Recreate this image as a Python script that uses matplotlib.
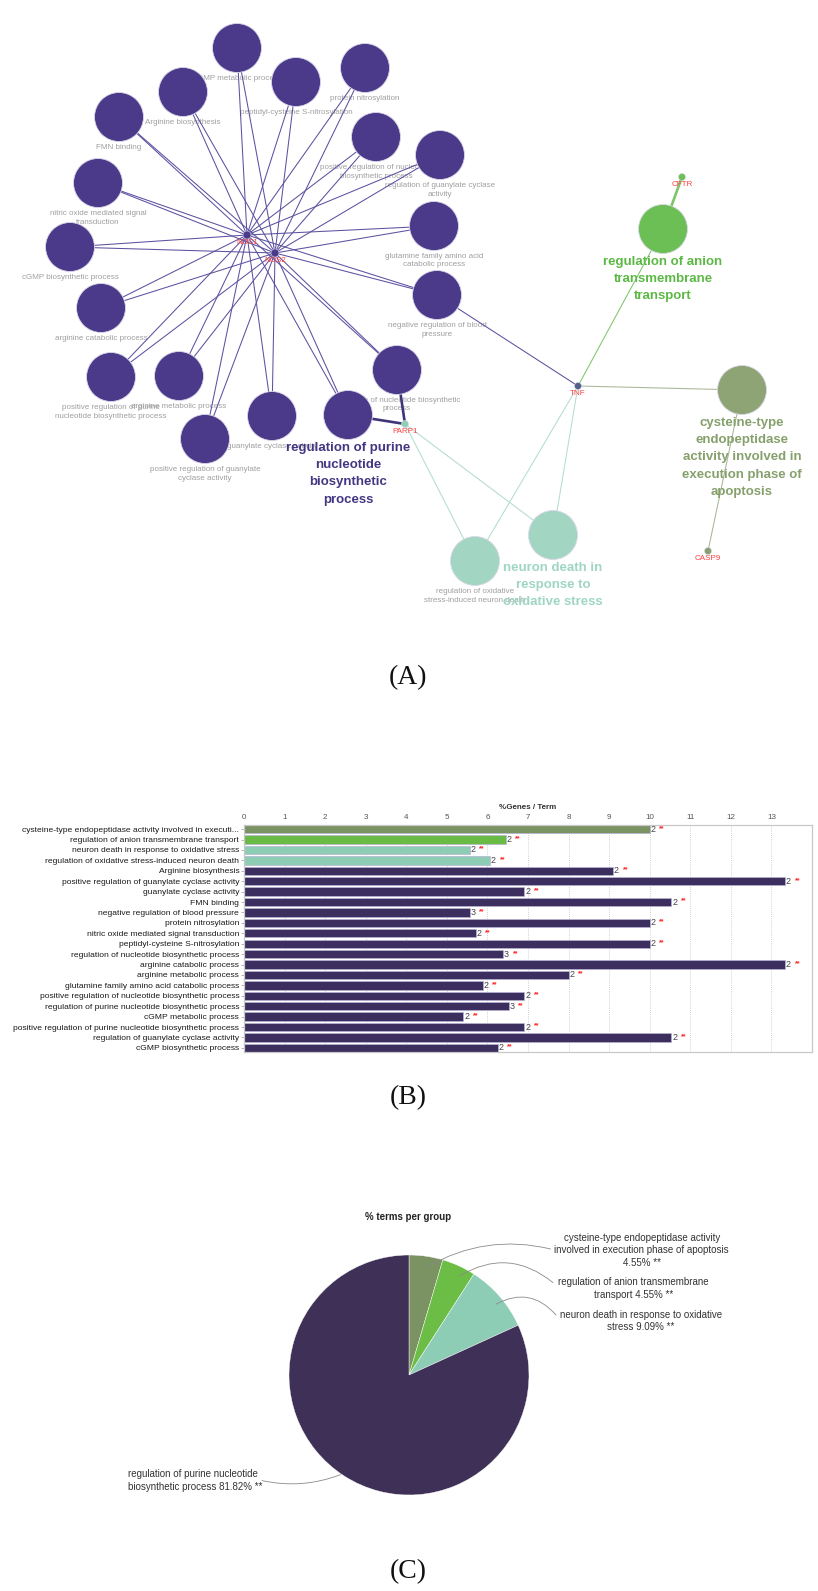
"""
Three-panel enrichment figure: (A) term-gene network, (B) %genes per term bars,
(C) share of terms per group pie.
"""
import matplotlib
matplotlib.use("Agg")
import numpy as np
import matplotlib.pyplot as plt
from matplotlib.patches import Circle
from matplotlib import font_manager

# ---------------------------------------------------------------- data
TERMS = [
    "cysteine-type endopeptidase activity involved in execution phase of apoptosis",
    "regulation of anion transmembrane transport",
    "neuron death in response to oxidative stress",
    "regulation of oxidative stress-induced neuron death",
    "Arginine biosynthesis",
    "positive regulation of guanylate cyclase activity",
    "guanylate cyclase activity",
    "FMN binding",
    "negative regulation of blood pressure",
    "protein nitrosylation",
    "nitric oxide mediated signal transduction",
    "peptidyl-cysteine S-nitrosylation",
    "regulation of nucleotide biosynthetic process",
    "arginine catabolic process",
    "arginine metabolic process",
    "glutamine family amino acid catabolic process",
    "positive regulation of nucleotide biosynthetic process",
    "regulation of purine nucleotide biosynthetic process",
    "cGMP metabolic process",
    "positive regulation of purine nucleotide biosynthetic process",
    "regulation of guanylate cyclase activity",
    "cGMP biosynthetic process",
]
TERM_GROUP = [0, 1, 2, 2] + [3] * 18
PCT_GENES = [10.00, 6.45, 5.56, 6.06, 9.09, 13.33, 6.90, 10.53, 5.56, 10.00, 5.71,
             10.00, 6.38, 13.33, 8.00, 5.88, 6.90, 6.52, 5.41, 6.90, 10.53, 6.25]
N_GENES = [2, 2, 2, 2, 2, 2, 2, 2, 3, 2, 2, 2, 3, 2, 2, 2, 2, 3, 2, 2, 2, 2]
TERM_GENES = [
    ["CASP9", "TNF"], ["CFTR", "TNF"], ["PARP1", "TNF"], ["PARP1", "TNF"],
    ["NOS1", "NOS2"], ["NOS1", "NOS2"], ["NOS1", "NOS2"], ["NOS1", "NOS2"],
    ["NOS1", "NOS2", "TNF"], ["NOS1", "NOS2"], ["NOS1", "NOS2"], ["NOS1", "NOS2"],
    ["NOS1", "NOS2", "PARP1"], ["NOS1", "NOS2"], ["NOS1", "NOS2"], ["NOS1", "NOS2"],
    ["NOS1", "NOS2"], ["NOS1", "NOS2", "PARP1"], ["NOS1", "NOS2"], ["NOS1", "NOS2"],
    ["NOS1", "NOS2"], ["NOS1", "NOS2"],
]
GENES = ["NOS1", "NOS2", "PARP1", "TNF", "CFTR", "CASP9"]

GROUP_NAMES = [
    "cysteine-type endopeptidase activity involved in execution phase of apoptosis",
    "regulation of anion transmembrane transport",
    "neuron death in response to oxidative stress",
    "regulation of purine nucleotide biosynthetic process",
]
GROUP_PCT = [4.55, 4.55, 9.09, 81.82]
GROUP_LEADER = [0, 1, 2, 17]

# ---------------------------------------------------------------- layout / style
W, H = 818, 1591
NET_H = 640

# network layout in pixels (same order as TERMS / GENES)
NODE_XY = [(742, 390), (663, 229), (553, 535), (475, 561), (183, 92), (205, 439),
           (272, 416), (119, 117), (437, 295), (365, 68), (98, 183), (296, 82),
           (397, 370), (101, 308), (179, 376), (434, 226), (376, 137), (348, 415),
           (237, 48), (111, 377), (440, 155), (70, 247)]
GENE_XY = [(247, 235), (275, 253), (405, 424), (578, 386), (682, 177), (708, 551)]
GENE_COL = ["#4b3a8a", "#4b3a8a", "#8fd0b5", "#55608a", "#6cbf55", "#8a9f70"]
THICK = {("PARP1", 12), ("PARP1", 17), ("CFTR", 1)}

NET_LABEL = {
    "positive regulation of nucleotide biosynthetic process": "positive regulation of nucleotide\nbiosynthetic process",
    "regulation of guanylate cyclase activity": "regulation of guanylate cyclase\nactivity",
    "nitric oxide mediated signal transduction": "nitric oxide mediated signal\ntransduction",
    "glutamine family amino acid catabolic process": "glutamine family amino acid\ncatabolic process",
    "negative regulation of blood pressure": "negative regulation of blood\npressure",
    "positive regulation of purine nucleotide biosynthetic process": "positive regulation of purine\nnucleotide biosynthetic process",
    "positive regulation of guanylate cyclase activity": "positive regulation of guanylate\ncyclase activity",
    "regulation of nucleotide biosynthetic process": "regulation of nucleotide biosynthetic\nprocess",
    "regulation of oxidative stress-induced neuron death": "regulation of oxidative\nstress-induced neuron death",
}
BIG_LABEL = [
    "cysteine-type\nendopeptidase\nactivity involved in\nexecution phase of\napoptosis",
    "regulation of anion\ntransmembrane\ntransport",
    "neuron death in\nresponse to\noxidative stress",
    "regulation of purine\nnucleotide\nbiosynthetic\nprocess",
]

NODE_COL = ["#8fa474", "#6cbf55", "#a2d5c2", "#4b3a8a"]
BIG_COL = ["#86a06c", "#5cb845", "#9fd6c1", "#443682"]
EDGE_COL = ["#a8b598", "#7cc56a", "#b3ddcd", "#5b51a0"]
BAR_COL = ["#7b9362", "#6abb45", "#8dcdb4", "#3c2f5f"]
PIE_COL = ["#7b9362", "#6cbd46", "#8ecdb5", "#3f3057"]

_names = {f.name for f in font_manager.fontManager.ttflist}
SANS = "Liberation Sans" if "Liberation Sans" in _names else "DejaVu Sans"
NARROW = "Liberation Sans Narrow" if "Liberation Sans Narrow" in _names else SANS
SERIF = "Liberation Serif" if "Liberation Serif" in _names else "DejaVu Serif"
plt.rcParams["font.family"] = [SANS, "DejaVu Sans"]


def fx(px):
    return px / W


def fy(py):
    return 1 - py / H


fig = plt.figure(figsize=(W / 100, H / 100), dpi=100)

# ---------------------------------------------------------------- (A) network
ax = fig.add_axes([0, fy(NET_H), 1, NET_H / H])
ax.set_xlim(0, W)
ax.set_ylim(NET_H, 0)
ax.axis("off")

gene_idx = {g: i for i, g in enumerate(GENES)}
for t, genes in enumerate(TERM_GENES):
    g_col = EDGE_COL[TERM_GROUP[t]]
    x0, y0 = NODE_XY[t]
    for g in genes:
        x1, y1 = GENE_XY[gene_idx[g]]
        thick = (g, t) in THICK
        col = "#3f3578" if (thick and TERM_GROUP[t] == 3) else g_col
        ax.plot([x0, x1], [y0, y1], color=col, lw=1.9 if thick else 0.75, zorder=2,
                solid_capstyle="round")

for t, name in enumerate(TERMS):
    x, y = NODE_XY[t]
    grp = TERM_GROUP[t]
    ax.add_patch(Circle((x, y), 24.5, facecolor=NODE_COL[grp], edgecolor="#dcd8ea",
                        lw=0.6, zorder=3))
    if t in GROUP_LEADER:
        ax.text(x, y + 27, BIG_LABEL[GROUP_LEADER.index(t)], ha="center", va="top",
                fontsize=9.5, weight="bold", color=BIG_COL[grp], linespacing=1.58,
                zorder=5)
    else:
        ax.text(x, y + 27, NET_LABEL.get(name, name), ha="center", va="top",
                fontsize=5.8, color="#9f9f9f", linespacing=1.3, zorder=1)

for g, (x, y), c in zip(GENES, GENE_XY, GENE_COL):
    ax.add_patch(Circle((x, y), 4 if g.startswith("NOS") else 3.5, facecolor=c,
                        edgecolor="#d8d8e8", lw=0.4, zorder=6))
    ax.text(x, y + 4, g, ha="center", va="top", fontsize=5.8, color="#ff4040", zorder=6)

# ---------------------------------------------------------------- (B) bars
axb = fig.add_axes([fx(244), fy(1052), (812 - 244) / W, (1052 - 825) / H])
ypos = np.arange(len(TERMS))
bar_labels = [t if len(t) <= 61 else t[:56] + "..." for t in TERMS]
axb.barh(ypos, PCT_GENES, height=0.8, color=[BAR_COL[g] for g in TERM_GROUP],
         edgecolor="#b9b3d6", linewidth=0.5, zorder=2)
axb.set_xlim(0, 14)
axb.set_ylim(len(TERMS) - 0.6, -0.4)
axb.set_xticks(range(14))
axb.xaxis.tick_top()
axb.xaxis.set_label_position("top")
axb.set_xlabel("%Genes / Term", fontsize=5.8, weight="bold", color="#333", labelpad=3.5)
axb.tick_params(axis="x", length=0, labelsize=5.8, labelcolor="#555", pad=3)
axb.set_yticks(ypos, bar_labels)
axb.tick_params(axis="y", length=2, width=0.5, color="#999", labelsize=6.1,
                labelcolor="#1a1a1a", pad=1.5)
axb.grid(axis="x", color="#c4c4c4", linestyle=(0, (1, 1.5)), lw=0.6, zorder=0)
for s in axb.spines.values():
    s.set_color("#c8c8c8")
    s.set_linewidth(0.9)
for yi, v, n in zip(ypos, PCT_GENES, N_GENES):
    axb.annotate(str(n), (v, yi), xytext=(0.8, 0), textcoords="offset points",
                 va="center", fontsize=6.4, color="#444")
    axb.annotate("**", (v, yi), xytext=(7.0, 0.6), textcoords="offset points",
                 va="center", fontsize=5, color="#ff2020", weight="bold")

# ---------------------------------------------------------------- (C) pie
R = 120
cx, cy = 409, 1375
axp = fig.add_axes([fx(cx - R), fy(cy + R), 2 * R / W, 2 * R / H])
axp.pie(GROUP_PCT, colors=PIE_COL, startangle=90, counterclock=False, radius=1,
        wedgeprops=dict(edgecolor="white", linewidth=0.3))
axp.set_xlim(-1, 1)
axp.set_ylim(-1, 1)
axp.set_aspect("equal")
fig.text(fx(408), fy(1217), "% terms per group", ha="center", va="center",
         fontsize=7, weight="bold", family=NARROW, color="#222")

pie_wrap = ["cysteine-type endopeptidase activity\ninvolved in execution phase of apoptosis\n",
            "regulation of anion transmembrane\ntransport ",
            "neuron death in response to oxidative\nstress ",
            "regulation of purine nucleotide\nbiosynthetic process "]
label_xy = [(1.94, 1.04), (1.87, 0.72), (1.93, 0.45), (-2.34, -0.88)]
label_ha = ["center", "center", "center", "left"]
conn_start = [(0.15, 0.90), (0.42, 0.825), (0.725, 0.59), (-0.57, -0.83)]
conn_end = [(1.18, 1.05), (1.20, 0.77), (1.225, 0.50), (-1.225, -0.88)]
conn_rad = [0.2, 0.35, 0.4, 0.15]
for i, pct in enumerate(GROUP_PCT):
    axp.text(*label_xy[i], f"{pie_wrap[i]}{pct:.2f}% **", ha=label_ha[i], va="center",
             fontsize=7, family=NARROW, color="#333", linespacing=1.3, clip_on=False)
    axp.annotate("", xy=conn_start[i], xytext=conn_end[i], annotation_clip=False,
                 arrowprops=dict(arrowstyle="-", color="#8a8a8a", lw=0.6, shrinkA=0,
                                 shrinkB=0, connectionstyle=f"arc3,rad={conn_rad[i]}"))

# ---------------------------------------------------------------- panel tags
for tag, py in [("(A)", 678), ("(B)", 1098), ("(C)", 1572)]:
    fig.text(fx(408), fy(py), tag, ha="center", va="center", fontsize=20,
             family=SERIF, color="#111")

fig.savefig("out.png", dpi=100)
